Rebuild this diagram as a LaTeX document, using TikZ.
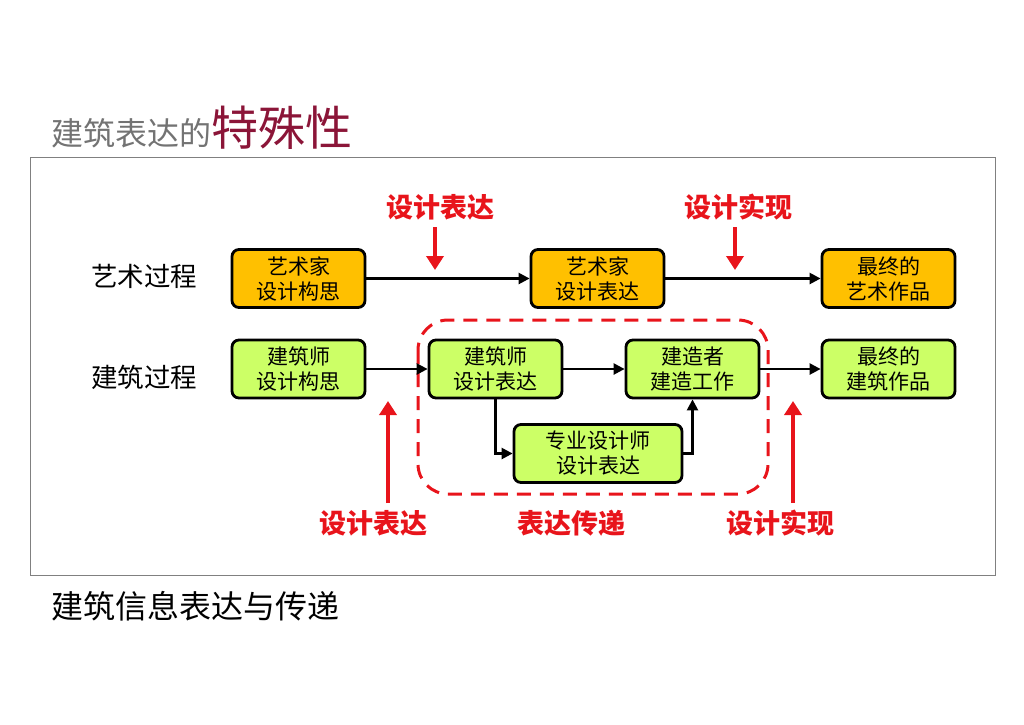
\documentclass[tikz,border=0pt]{standalone}
\usepackage{fontspec}
\setmainfont{Noto Sans CJK SC}
\usetikzlibrary{arrows.meta,positioning}
\definecolor{boxorange}{HTML}{FFC000}
\definecolor{boxgreen}{HTML}{CCFF66}
\definecolor{titlered}{HTML}{8B1538}
\definecolor{framegray}{HTML}{808080}
\definecolor{arrred}{HTML}{E8141B}
\tikzset{
  procbox/.style={draw=black,line width=2.8pt,rounded corners=7pt,minimum width=133pt,minimum height=58pt,inner sep=0pt,align=center,font=\fontsize{21}{25}\selectfont},
  orangebox/.style={procbox,fill=boxorange},
  greenbox/.style={procbox,fill=boxgreen},
  flow/.style={draw=black,line width=2.4pt,-{Triangle[length=11pt,width=11pt]}},
  redarr/.style={draw=arrred,line width=3.5pt,-{Triangle[length=14pt,width=17pt]}},
  redlabel/.style={text=arrred,font=\bfseries\fontsize{27}{30}\selectfont,inner sep=0pt},
  rowlabel/.style={font=\fontsize{26.5}{30}\selectfont,inner sep=0pt}
}
\begin{document}
\begin{tikzpicture}[x=1pt,y=-1pt]
\useasboundingbox (0,0) rectangle (1024,724);
% title
\node[anchor=base west,inner sep=0pt,text=gray!90!black,font=\fontsize{32}{36}\selectfont] (t1) at (51,145) {建筑表达的};
\node[anchor=base west,inner sep=0pt,text=titlered,font=\fontsize{47}{50}\selectfont] (t2) at (t1.base east) {特殊性};
% frame
\node[draw=framegray,line width=1pt,minimum width=965pt,minimum height=418pt,inner sep=0pt] (frame) at (512.5,366) {};
% bottom text
\node[anchor=base west,inner sep=0pt,font=\fontsize{32}{36}\selectfont] (bt) at (51,618) {建筑信息表达与传递};
% row labels
\node[rowlabel] (r1) at (144,276) {艺术过程};
\node[rowlabel] (r2) at (144,377) {建筑过程};
% dashed region
\draw[arrred,line width=3pt,dash pattern=on 14pt off 9pt,rounded corners=30pt] (418,320) rectangle (768,494);
% orange row
\node[orangebox] (o1) at (298.5,278.5) {艺术家\\设计构思};
\node[orangebox] (o2) at (597.5,278.5) {艺术家\\设计表达};
\node[orangebox] (o3) at (888.5,278.5) {最终的\\艺术作品};
% green row
\node[greenbox] (g1) at (298.5,369) {建筑师\\设计构思};
\node[greenbox] (g2) at (495.5,369) {建筑师\\设计表达};
\node[greenbox] (g3) at (692.5,369) {建造者\\建造工作};
\node[greenbox] (g4) at (888.5,369) {最终的\\建筑作品};
\node[greenbox,minimum width=168pt] (g5) at (598,453.5) {专业设计师\\设计表达};
% black flows
\draw[flow] (o1) -- (o2);
\draw[flow] (o2) -- (o3);
\draw[flow] (g1) -- (g2);
\draw[flow] (g2) -- (g3);
\draw[flow] (g3) -- (g4);
\draw[flow] (g2.south) |- (g5.west);
\draw[flow] (g5.east) -| (g3.south);
% red labels and arrows
\node[redlabel] (l1) at (440,207) {设计表达};
\node[redlabel] (l2) at (738,207) {设计实现};
\node[redlabel] (l3) at (373,523) {设计表达};
\node[redlabel] (l4) at (571,523) {表达传递};
\node[redlabel] (l5) at (780,523) {设计实现};
\coordinate (a1s) at (435,227);
\coordinate (a1e) at (435,270);
\coordinate (a2s) at (735,227);
\coordinate (a2e) at (735,270);
\coordinate (a3s) at (388,503);
\coordinate (a3e) at (388,401);
\coordinate (a5s) at (793,503);
\coordinate (a5e) at (793,401);
\draw[redarr] (a1s) -- (a1e);
\draw[redarr] (a2s) -- (a2e);
\draw[redarr] (a3s) -- (a3e);
\draw[redarr] (a5s) -- (a5e);
\end{tikzpicture}
\end{document}
